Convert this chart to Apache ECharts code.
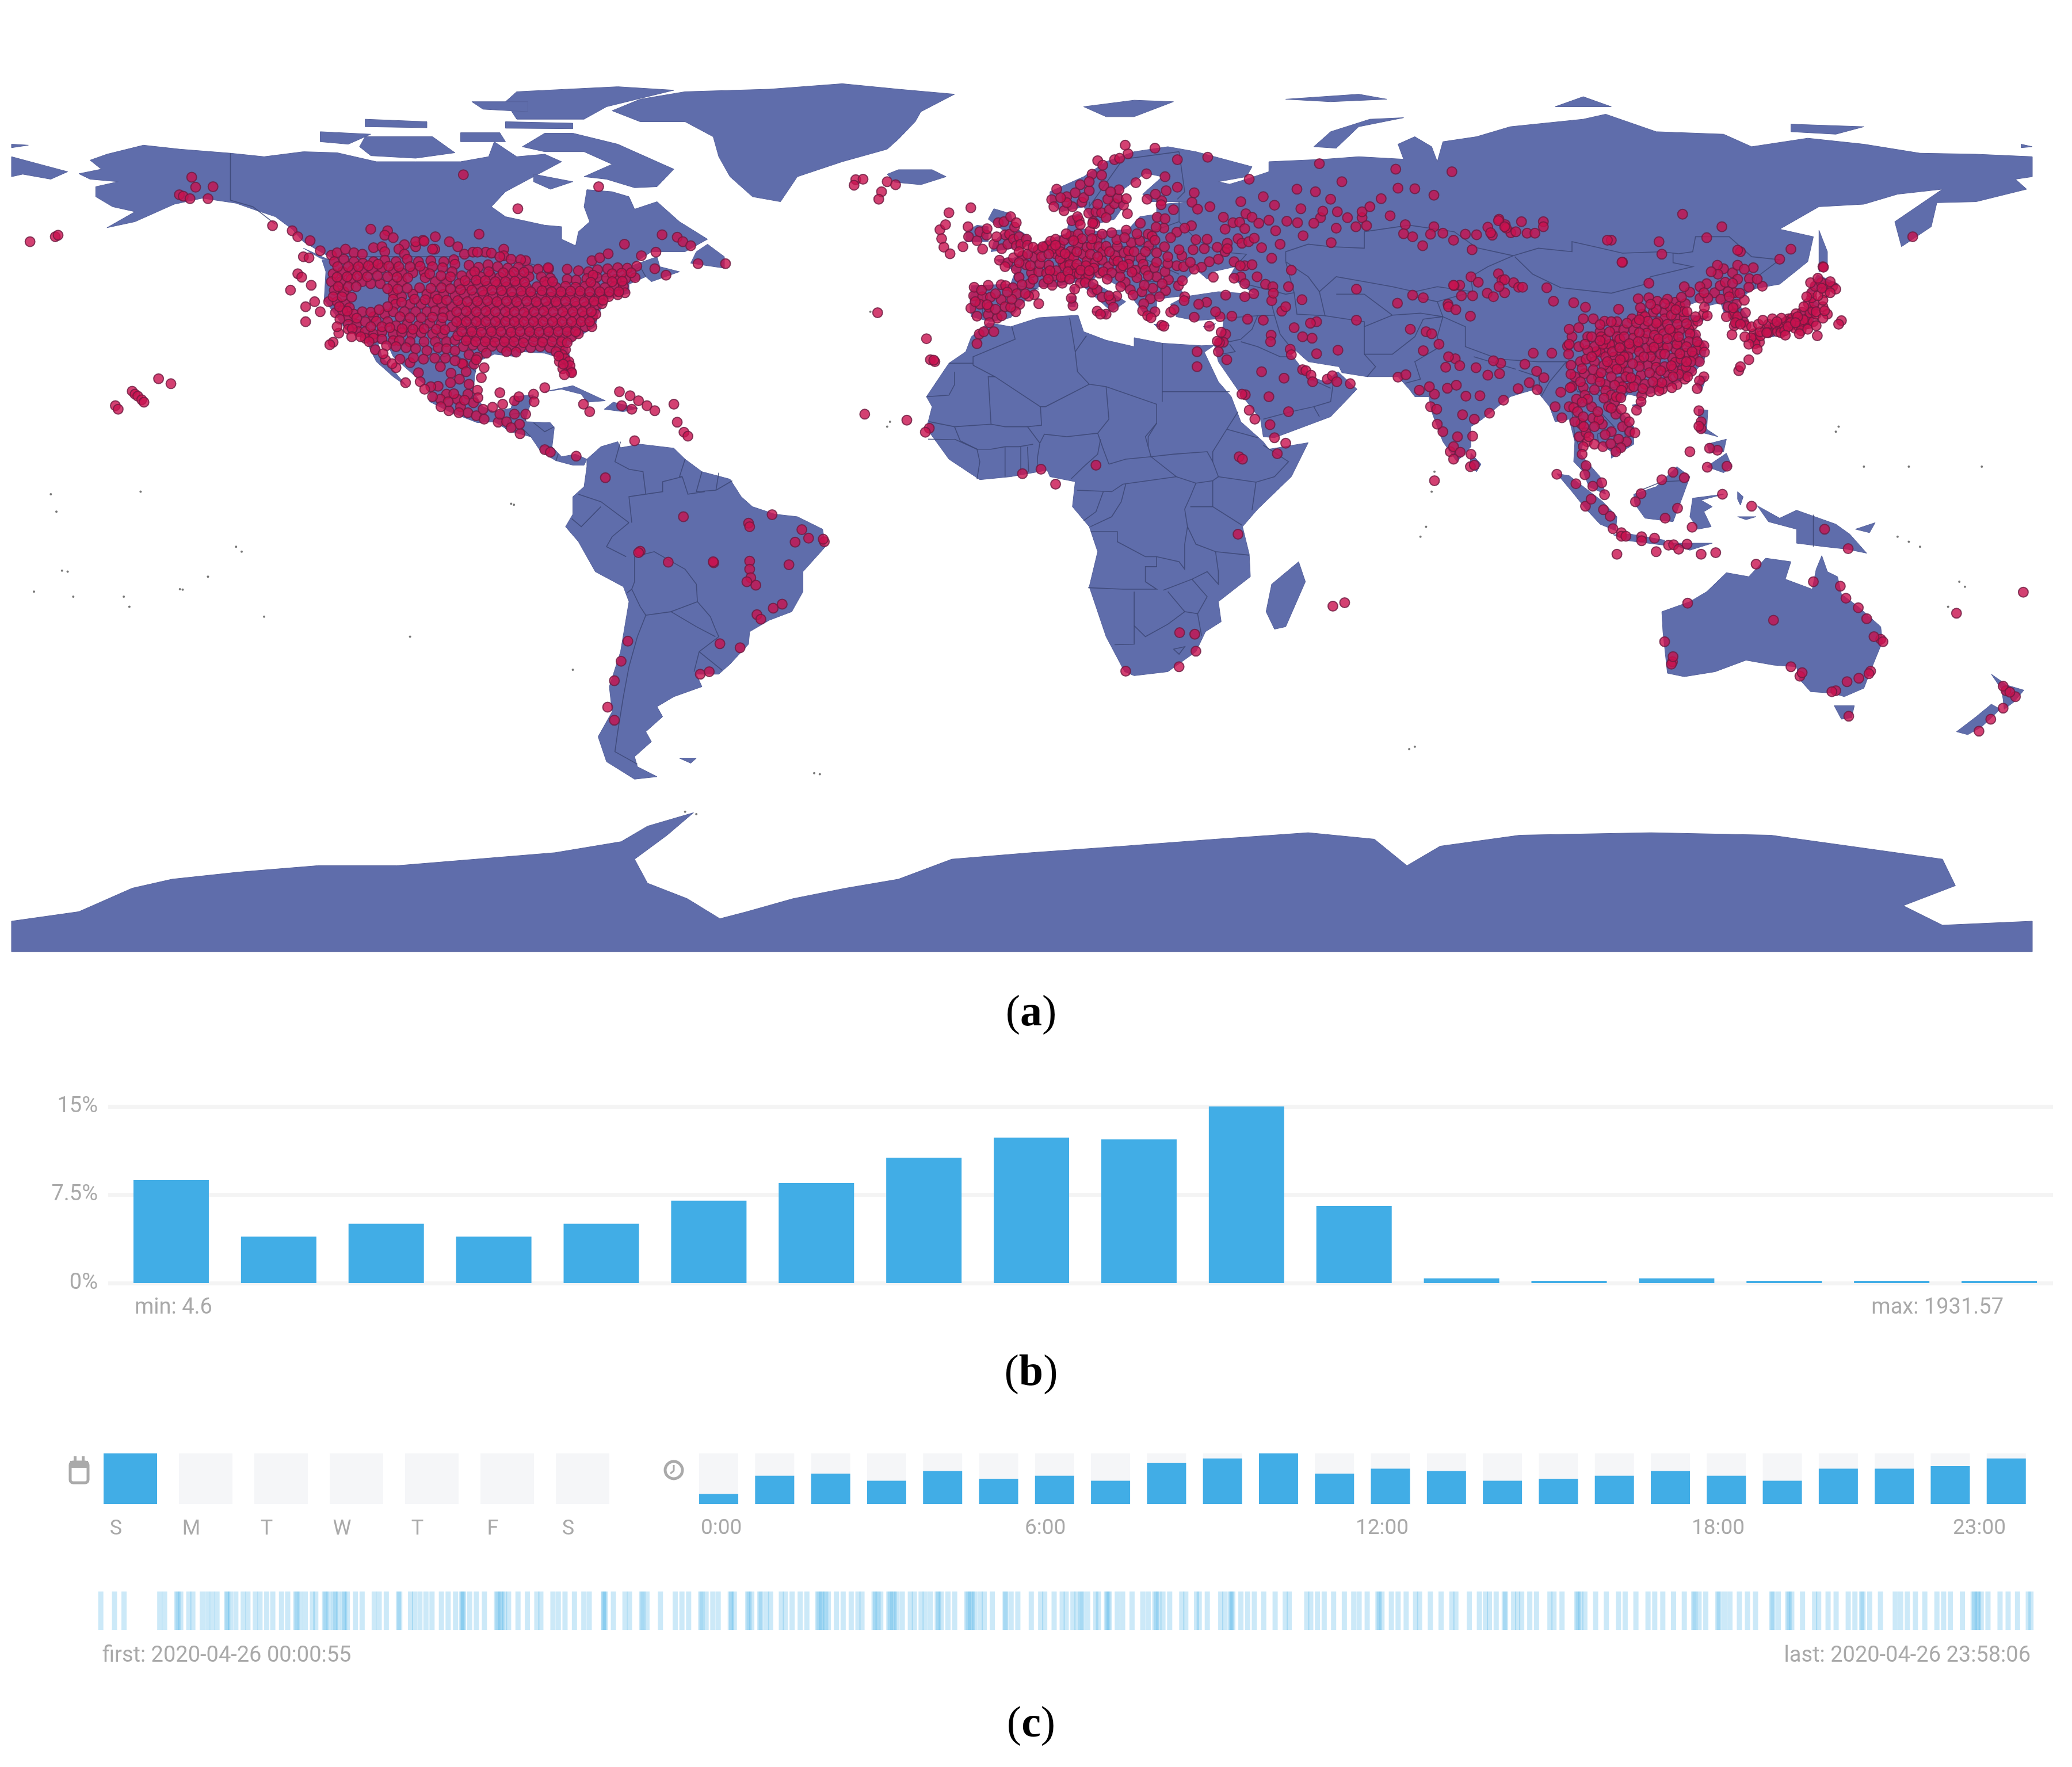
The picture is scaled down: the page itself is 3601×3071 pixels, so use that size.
<!DOCTYPE html>
<html>
<head>
<meta charset="utf-8">
<title>figure</title>
<style>html,body{margin:0;padding:0;background:#fff}#main{width:3601px;height:3071px}</style>
<script src="https://cdn.jsdelivr.net/npm/echarts@6/dist/echarts.min.js"></script>
</head>
<body>
<div id="main"></div>
<script>
// land outlines, lon/lat
var northAmerica=[[-168,65.6],[-164,66.5],[-166,68.3],[-163,69.5],[-156.5,71.3],[-150,70.5],[-141,69.7],[-135,69],[-128,70],[-122,69.8],[-115,68],[-108,68],[-100,68],[-95,69],[-94,72],[-90,69],[-85,69.5],[-82,68],[-87,65],[-92,62],[-94.5,59],[-92,57],[-85,55.3],[-82,55],[-82,52.5],[-79.5,51.2],[-79,54],[-77,56],[-78,59],[-77.5,62.4],[-73,62],[-70,61],[-69,58.5],[-65,60],[-61,56],[-56,52.5],[-60,50],[-66,50],[-70,47],[-65,49],[-64.5,47],[-61,46],[-66,44],[-67,45],[-70,43.5],[-70,41.7],[-74,40.5],[-75.5,37.5],[-76,35],[-79,33],[-81,31],[-80,26.5],[-80.5,25.2],[-82,27],[-83,29],[-85,29.7],[-89,30],[-90,29],[-94,29.5],[-97,28],[-97.5,25],[-97.7,22],[-96,19],[-94,18],[-91,18.7],[-90.5,21],[-87,21.4],[-88,18],[-88.5,16],[-84,15.8],[-83.3,14.8],[-83.7,11],[-82,9],[-79.5,9.5],[-77.5,8.5],[-78,7.3],[-80,7.3],[-83,8.2],[-85.7,10],[-87.5,13],[-91,14],[-94,16],[-97,15.8],[-102,18],[-105.5,20],[-105.5,22.5],[-109,26],[-112,29],[-113,31.5],[-114.7,31.7],[-114,29],[-111,25],[-109.5,23],[-112,25],[-115,28],[-117,32.5],[-120.5,34.5],[-122.5,37.7],[-124.3,40.3],[-124,46],[-124.7,48.4],[-122.5,48.5],[-125,50],[-128,52],[-130,54.5],[-133,57],[-137,58.5],[-140,59.7],[-146,60.7],[-151,59.5],[-153,58.5],[-158,56],[-163,54.8],[-158,58],[-162,59],[-165,61],[-165,63],[-161,64],[-166,64.5]];
var southAmerica=[[-77.5,8.5],[-75,11],[-72,12],[-71.5,10.8],[-68,11.5],[-62,10.7],[-60,8.5],[-57,6],[-52,4.5],[-50,1],[-48,-1],[-44,-2.5],[-40,-3],[-35.5,-5.5],[-35,-9],[-39,-14],[-39,-18],[-41,-22],[-45,-23.7],[-48.5,-26],[-48.7,-28.5],[-52,-32.5],[-54,-34.5],[-58,-34.5],[-57,-37],[-62,-39],[-65,-41],[-64,-43],[-67,-46],[-66,-48],[-69,-51],[-68.5,-53],[-65,-55],[-69,-55.5],[-74,-52],[-75.5,-47],[-73,-42],[-73.5,-37],[-71.5,-30],[-70,-20],[-71,-17],[-76,-14],[-79,-8],[-81.3,-5],[-80,-2.5],[-80,1],[-78,3],[-77.5,7]];
var africa=[[-6,35.8],[-2,35],[3,36.8],[10,37.3],[11,34],[15,32.3],[20,31],[20,32.8],[25,31.7],[32,31.2],[34.3,31.3],[32.5,29.9],[35,24],[37.3,21],[39,16],[43,12],[44,10.5],[51,11.8],[48,5],[42,-1.5],[39.3,-5],[40.5,-10.5],[40.7,-15],[35,-20],[35.5,-24],[32.7,-26],[31,-30],[26,-34],[20,-34.8],[18.3,-34],[15,-27],[12,-17],[13.5,-10],[12,-5],[9,-1],[9.5,4],[5,5],[4.5,6.3],[-2,5],[-7.5,4.4],[-13,8.5],[-17,14.7],[-16,19],[-17,21],[-13,27.7],[-10,30],[-9,33]];
var eurasia=[[-9,37],[-9.3,39],[-9,43.2],[-2,43.5],[-1.2,46],[-4.7,48.4],[-1.5,48.7],[1.5,50.5],[4,52],[8,53.7],[8.5,57],[10.5,57.7],[10,54.7],[14,54],[19,54.5],[21,57],[24,57.5],[24,59.4],[30,60],[23,60],[21.5,61.5],[25,65],[22,65.7],[17.5,62],[18.5,59.7],[16.5,56.5],[13,55.5],[11,59],[7,58],[5,60],[5,62],[11,65],[15,68],[20,70],[26,71],[31,70],[41,67],[40,65],[35,64],[37,63.5],[40,64.5],[44,66],[44,68],[54,68.5],[60,69],[68,68.5],[67,71.5],[70,73],[73,71],[74,68],[75,72],[81,73],[87,75],[100,76.5],[104,77.5],[113,74],[125,73.5],[130,71],[140,72.7],[150,71.5],[160,69.7],[170,69.5],[180,69],[180,65],[177,64.5],[179,62.5],[170,60],[163,59.8],[162,55],[156.7,51],[155.5,56],[164,62.5],[156,61.5],[150,59.5],[142,59],[135,54.5],[141,53],[140,48],[135,43.5],[130,42.5],[127.5,39.8],[129.3,37],[129,35.2],[126.5,34.5],[126.5,37.5],[125,38],[124.5,39.8],[121.5,39],[122,40.7],[118,39],[119,37.3],[122.5,37],[119.5,35],[122,31],[121.5,28],[119,25],[114,22.3],[110,21],[108,21.5],[106,19],[109,15],[109,11.5],[105,8.7],[105,10],[102.5,12],[100.8,13.5],[100,12],[99.5,9.5],[103,5],[104,1.5],[101,3],[100,6],[98.3,8],[98.5,12],[97.5,16.5],[95,16],[94,19],[91.5,22.5],[89,21.7],[87,21],[82,16.5],[80,15],[80,11],[77.5,8],[75,12],[73,18],[72.5,21],[70,21],[69,22.5],[67,25],[61.5,25],[57,25.8],[56.5,27],[51,28],[48.8,30.2],[48,29.5],[50,26.5],[51.5,25],[54,24],[56.3,26],[59.7,22.5],[55,17],[45,12.8],[43,13],[42.5,16.5],[39,21.5],[35,28],[34.3,31.3],[35.8,35],[36,36.7],[31,36.2],[27.5,37],[26.5,39.5],[29,41],[35,42],[41.5,41.5],[37,45],[38,47],[34,46],[33,44.5],[31,46.5],[28,43],[29,41.2],[26,40.8],[24,40.5],[24,38],[22.5,36.5],[19.5,41],[19,42],[13.5,45.5],[12.5,44],[16,41.8],[18.5,40],[16,38],[12.5,41.5],[10,44],[6,43],[3,43],[0,39.5],[-2,36.8],[-5.5,36]];
var australia=[[114,-22],[114.2,-26],[115,-34.3],[118,-35],[123.5,-34],[129,-31.7],[134,-32.7],[138,-33],[138.5,-35.5],[140.5,-38],[144.5,-38.3],[146.5,-39],[150,-37.3],[151.3,-33.5],[153.3,-28],[153,-25],[149,-21],[146,-18.5],[145.3,-15],[143.5,-14],[142.5,-10.8],[141.5,-13.5],[140.8,-17.5],[136,-15.5],[137,-12],[132.5,-11.3],[129.5,-15],[125.5,-14.2],[122,-18],[119,-20]];
var antarctica=[[-180,-83.9],[-168,-82],[-158.5,-77.3],[-151.4,-75.5],[-139.7,-74.1],[-125.5,-72.8],[-111.4,-72.8],[-97.3,-71.5],[-83.2,-70.2],[-71.4,-68],[-66.7,-64.9],[-58.5,-62.2],[-63.2,-66.7],[-69,-71.5],[-66.7,-76.3],[-59.6,-79.4],[-53.8,-83.4],[-49,-82],[-40.8,-79.4],[-31.4,-77.3],[-22,-75.5],[-12.5,-71.5],[1.6,-70.2],[18,-68.9],[34.5,-67.5],[51,-66.2],[62.8,-67.5],[68.6,-72.8],[74.5,-68.9],[88.7,-66.7],[112,-66.2],[133.4,-66.7],[147.5,-68.9],[164,-71.5],[166.3,-76.8],[157,-80.8],[164,-84.7],[180,-83.9],[180,-90],[-180,-90]];
var islands=[
[[-73,78.2],[-68,80.5],[-60,82],[-45,82.5],[-32,83.6],[-22,82.5],[-12,81.5],[-18,78],[-19,76],[-22,72.5],[-24,70.5],[-32,68],[-40,65],[-43,60],[-48,61],[-52,65],[-54,69],[-55,73],[-60,76],[-68,76]],
[[-80,73.7],[-72,71.5],[-67,69],[-62,66.5],[-65,63],[-69,62.8],[-74,64.5],[-78,65],[-73,67.5],[-78,70],[-85,70],[-89,71],[-85,73.7]],
[[-117,73],[-105,73],[-101,69.8],[-108,68.7],[-116,69.2],[-118,71]],
[[-125,74],[-116,73.5],[-120,71.5],[-125,72]],
[[-90,76.5],[-78,76.5],[-74,79],[-62,82.3],[-72,83],[-90,82],[-92,80]],
[[-92,76],[-80,75.7],[-80,74.6],[-92,74.7]],
[[-98,80],[-88,80],[-88,78],[-96,78.5]],
[[-117,76.5],[-106,76],[-106,74.8],[-117,75]],
[[-100,73.8],[-93,73.8],[-92,72],[-100,72]],
[[-87,65.5],[-80,64],[-84,62.5],[-87,64]],
[[-59,47.7],[-53,46.7],[-53,49],[-56,51.5],[-58,50]],
[[-128,50.7],[-123.5,48.4],[-125,48.7]],
[[-85,22],[-80,23.2],[-74.2,20.2],[-77.5,19.9],[-78.5,21.5],[-82,22.5]],
[[-74.4,18.5],[-72.8,19.9],[-68.4,18.7],[-71,18]],
[[-24,65.5],[-22,66.4],[-16,66.4],[-13.5,65],[-18,63.4],[-22.7,63.9]],
[[-5.5,50],[1.3,51.2],[1.7,52.7],[-1.5,55],[-2,57.6],[-5,58.6],[-6,56.5],[-3,54],[-5,52]],
[[-10,52],[-6,52],[-6,55],[-8,55.3],[-10,54]],
[[11,79],[20,80.3],[27,80],[20,77],[15,77]],
[[52,71],[56,70.7],[60,75],[68,76.8],[62,76.5],[55,74]],
[[95,79],[105,79],[100,81]],
[[47,80.5],[60,81.5],[65,80.5],[55,80]],
[[137,75.5],[150,75],[145,73.5],[137,74]],
[[178,71.5],[180,71],[178,70.8]],
[[-180,71.5],[-177,71.3],[-180,70.8]],
[[-180,69],[-175,67.5],[-170,66],[-173,64.5],[-178,65.5],[-180,65]],
[[142,54.3],[143.5,50],[143.5,46.5],[142,46],[142,50]],
[[140,42],[141.7,45.4],[145.5,43.5],[143,42]],
[[131,34],[133,35.7],[137,37.3],[139.8,38.5],[140.3,41.3],[142,39.5],[140.9,35.7],[136.8,34.5],[133,34]],
[[130,33.5],[132,33],[131,31],[130,31.5]],
[[132.5,34],[134.5,34.2],[134,33],[132.7,33]],
[[121,25.2],[122,25],[121,22],[120,23.5]],
[[108.7,19.3],[111,20],[110,18.3]],
[[120.5,18.5],[122.2,18.3],[122,14.5],[124,13],[120.6,14]],
[[122,7],[125.5,9.7],[126.5,7],[125,5.8]],
[[122,11.5],[125.5,12.5],[125,10],[122.5,9.8]],
[[95.3,5.6],[97.5,5.2],[103.5,0],[106,-3],[105.8,-5.8],[103,-4.5],[100.5,-1.5],[98,2]],
[[105.3,-6.6],[108.5,-6.5],[114.5,-7.7],[114.4,-8.7],[108,-7.8]],
[[115,-8.3],[123,-8.3],[119,-9.7]],
[[109,1.5],[113,3],[116.7,7],[119,5],[117.7,1],[116,-4],[111,-3.3],[109.2,-0.5]],
[[119.5,0.7],[125,1.5],[121,0.3],[123,-1],[121.5,-2],[122.8,-5],[120.4,-5.5],[119,-3]],
[[127.5,2],[128.5,1],[128,-0.7],[127.5,0.5]],
[[127.5,-3],[130.8,-3],[129,-3.6]],
[[131,-0.8],[135,-3.3],[138,-1.7],[145,-4.5],[147.5,-6.5],[150.5,-10.3],[147,-9.5],[143,-9],[138,-8.3],[138,-5.5],[133,-4]],
[[148.5,-5.5],[152,-4.2],[151,-6.2]],
[[144.7,-40.8],[148.3,-40.8],[147.8,-43.2],[146,-43.5]],
[[172.7,-34.5],[175.5,-36.7],[178.5,-37.7],[176.8,-40],[175,-41.5],[174.8,-39.5],[174.5,-37.5]],
[[172.7,-40.5],[174.3,-41.5],[171,-45],[168.5,-46.6],[166.5,-46],[170,-43]],
[[49.3,-12],[50.5,-16],[47,-25],[45,-25.5],[43.5,-22],[44.5,-16.5]],
[[80,9.7],[81.8,7.5],[81,6],[79.8,7]],
[[12.5,38],[15.6,38.2],[15,36.7]],
[[8.3,41],[9.7,41],[9.5,39],[8.5,39]],
[[8.6,42.9],[9.5,43],[9.3,41.5]],
[[23.5,35.5],[26.3,35.3],[24,35]],
[[32.3,35],[34.5,35.6],[33.5,34.7]],
[[-61,-51.3],[-58,-51.3],[-59,-52.3]]
];
// country borders
var borders=[
[[-141,69.7],[-141,60.3],[-137,59],[-133,55.5]],
[[-123,49],[-95,49],[-89,48],[-84,46.5],[-82.5,43],[-79,43],[-75,45],[-71,45],[-68,47],[-67,45]],
[[-117,32.5],[-111,31.3],[-106.5,31.7],[-103,29],[-101,29.7],[-97.3,26]],
[[-92,14.5],[-91,17.5],[-89,17.8],[-88.3,16]],[[-89.3,15],[-87.5,13]],[[-87,15.8],[-85,14],[-83.3,15]],[[-85.7,11],[-83.7,11]],[[-83,8.2],[-82.6,9.6]],
[[-71.5,12],[-72.5,8],[-70,6.5],[-67.5,6],[-67,1.5]],[[-60,8.5],[-61,5],[-60.5,5]],[[-67,1.5],[-64,2],[-64,4],[-60.5,5]],[[-60.5,5],[-59.5,1.5],[-56.5,2]],[[-57,6],[-58,2]],[[-54,5.8],[-54.5,2.3]],[[-54.5,2.3],[-51.6,4.2]],[[-58,2],[-54.5,2.3]],
[[-67,1.5],[-70,1],[-69.5,-4.2]],[[-79,1.5],[-75,0],[-70,-4.2]],[[-80.2,-3.4],[-78.5,-5],[-75,-1]],[[-70,-4.2],[-73,-7],[-74,-9],[-70.5,-11]],[[-69,-11],[-69,-16],[-69.5,-17.5]],[[-69,-11],[-65.5,-10],[-60,-13.5],[-58,-16.5],[-57.8,-20]],[[-57.8,-20],[-62.5,-22]],[[-62.5,-22],[-67,-22.7]],[[-69.5,-17.5],[-68,-21],[-67,-22.7]],[[-67,-22.7],[-68.5,-27],[-70,-33],[-71,-39],[-72,-46],[-72.5,-50],[-68.5,-52.5]],[[-69.5,-17.5],[-70.4,-18.3]],[[-62.5,-22],[-58,-25],[-54.6,-27]],[[-57.8,-20],[-55.5,-23],[-54.6,-25.5]],[[-54.6,-25.5],[-54,-27],[-57.5,-30]],[[-57.5,-30],[-53.4,-33.7]],[[-57.5,-30],[-58.4,-34]],
[[-1.8,35],[-1.2,32.5],[-8.7,29],[-8.7,27.3]],[[-13,27.7],[-8.7,27.7]],[[-8.7,27.3],[-4.8,25],[3.3,19],[4.2,19],[12,23.5],[15,23],[24,19.5],[24,15.7],[22.5,13],[22.5,11]],[[-12,26],[-12,23.4],[-13,21.3],[-17,21]],[[-4.8,25],[-6,25],[-5.5,15.5],[-12,15],[-16.5,16]],[[8.5,36.8],[9.5,30],[9.9,26],[12,23.5]],[[11.5,33.2],[9.5,30]],[[25,31.7],[25,20]],[[25,22],[37,22]],[[15,23],[15.5,16.5],[13.5,13.7],[14.5,10.5],[15.5,7.5]],[[3.2,11.7],[4,13.5],[8,13],[13.5,13.7]],[[3.3,19],[3.5,15.3],[1,15],[3.2,11.7],[2.8,9],[2.7,6.3]],[[-5.5,15.5],[-3,15],[-0.5,15],[1,15]],[[-5.5,10.5],[-3,11],[-0.5,11],[2,11.5]],[[-12,12.5],[-8,10.5],[-7.5,8],[-8,4.5]],[[-16.7,12.5],[-12,12.4]],[[-3,5],[-3,10.9]],[[-0.2,5.5],[-0.2,11]],[[1.2,6],[1,11]],[[-12,15],[-11,12.2],[-8,10.5],[-5.5,10.5]],[[24,15.7],[22,13],[23,9]],[[15.5,7.5],[18.5,8.5],[23,9],[27.5,5]],[[8.8,4.6],[11,7],[13.5,9.5],[14,12.5]],[[9.8,2.3],[16,2],[18,3.5],[27.5,5],[31,3.7],[34,4.2]],[[11,-3.8],[13.2,-2],[14.5,2]],[[12.2,-5],[16,-3],[17.7,0],[18.5,3.5]],[[12.3,-6],[17,-6],[17,-8],[22,-11],[24,-11],[24,-13]],[[11.8,-17.2],[18,-17.5],[24,-17.5],[22,-16],[22,-13],[24,-13]],[[24,-11],[28,-12],[29,-13.5],[29,-8.5],[29.5,-5]],[[29.5,-5],[29,-1.5],[30,1],[31,3.7]],[[23,9],[27,9.5],[33,10],[34,8]],[[36.5,14.5],[34,10],[34,8],[35,5]],[[36.5,14.5],[38.5,18]],[[36.5,14.5],[42,12.8]],[[43,11.3],[47.5,8],[45,5],[41.7,3.9],[35,5]],[[34,4.2],[35,5]],[[41.7,3.9],[41,-1.7]],[[39.2,-4.7],[34,-1],[30,-1]],[[34,4.2],[34,-1]],[[29.5,-5],[31,-8.5],[34.5,-10],[40.5,-10.7]],[[34.5,-10],[35,-14],[35,-16.5],[33,-14],[30.3,-15.5]],[[25.2,-17.7],[30.3,-15.5],[33,-19],[31.3,-22.4],[29,-22],[26,-18]],[[31.3,-22.4],[32,-26.8]],[[20,-18],[20,-24.8],[22,-27],[26,-24.5],[29,-22]],[[20,-24.8],[20,-28.5],[16.5,-28.6]],[[27,-29.5],[29,-29],[28,-30.5],[27,-29.5]],
[[28,56],[31,52.5],[35,50],[40,49.5],[38,47]],[[40,43.5],[47,41.5],[48.5,41.8]],[[47,48],[47,50],[51,51.5],[55,51],[61,50.7],[61,54],[69,55.3],[77,54],[81,50.8],[87.5,49.2]],[[87.5,49.2],[92,50.7],[98,50],[98,52],[102,51],[107,49.7],[114,50],[117,49.6],[119.5,50],[120,53],[126,53],[130,49],[135,48.4],[131,45],[130.5,42.5]],[[87.8,49],[91,45.5],[96,42.8],[105,41.7],[111,43.5],[112,45],[119.5,47],[116,47.8],[116,49.8]],[[87.5,49.2],[83,47],[80,45],[80.3,42],[74,40]],[[74,40],[75,37],[79,35],[79,31],[85,28.5],[92,28],[97,28],[98,25],[99,22],[102,22],[106,23],[108,21.6]],[[124.5,40],[128,41.5],[130.5,42.5]],[[125,37.8],[128.5,38.5]],[[75,37],[74,33],[74.5,31],[70,28],[71,24.5],[68.3,23.7]],[[61.5,25],[63,27],[61,29.5]],[[61,29.5],[66,29.5],[70,33],[71.5,36.5],[75,37]],[[61,29.5],[61,35],[66,37.3],[71,37.7],[75,37]],[[54,37.2],[61,36],[61,35]],[[53,42],[56,45],[61,44],[66,43],[70,42],[74,43],[80.3,42]],[[56,41.5],[61,41.5],[66,37.3]],[[70,41],[74,40]],[[47,48],[51,45],[53,42],[54,37.2],[49,37.5],[48.5,41.8],[47,48]],[[48.5,30],[46,33.5],[45,37.3],[44.5,39.5]],[[36,36.7],[42,37.2],[45,37.3]],[[42,37.2],[41,34.5],[39,32.5],[37,32],[35.5,32.5]],[[39,32],[42,31],[46,29],[48,29]],[[37,31.5],[38,30],[35,29.4]],[[43,16.5],[48,18],[52,19],[53,17]],[[52,19],[55,20],[55.5,24],[56,26]],[[51.5,24.5],[55,22.7]],[[99,22],[101,21.3],[100,20],[98,18],[98.5,13],[99.5,10.5]],[[100.5,20],[103,18],[105.5,15],[102.5,13.5],[102.7,12]],[[102,22],[104,20],[107,16],[107.5,13],[106,11],[104.5,10.5]],[[88.5,26.3],[92,25],[92.5,21.5]],[[80.5,29],[88,26.5]],[[97,28],[94,24],[92.5,21]],[[109.6,2],[114,4],[117.5,4.2]],[[141,-2.6],[141,-9]],[[24,51],[23,54],[28,56],[28,60]],[[24,51],[22,48.5],[28,45.5]],[[14.5,54],[15,51],[24,51]],[[6,51],[8,47.7],[13,47.5],[17,48],[22,48.5]],[[-1.8,43.4],[3,42.5]],[[-9,42],[-7,41.8],[-7,37.2]],[[3,51],[8,49],[7,44]],[[12,60],[12,59],[18,68.5],[28,70]],[[28,70],[29,62],[27.7,60.5]],[[22,48.5],[19,46],[22,44],[28,44]],[[19,46],[16,46.5],[13.5,45.7]],[[22,44],[21,41],[26,41.5]]
];
// observation points, lon/lat
var pointsNorthAmerica=[[-147.9,64.9],[-147.2,62.9],[-144.1,63],[-150.1,61.4],[-149.4,61.1],[-148.2,60.6],[-145,60.6],[-176.7,52],[-172.2,53],[-171.7,53.3],[-99.5,65.4],[-75.4,63],[-89.8,58.6],[-158.5,22.1],[-158,21.5],[-157.5,21.1],[-156.8,20.4],[-156.4,19.9],[-153.8,24.6],[-151.6,23.6],[-161.5,19.2],[-161,18.5],
[-133.5,55.2],[-130,54.2],[-129,53],[-126.8,52.2],[-125,50.2],[-116,54.5],[-113,54.2],[-113.5,53.3],[-112,52.8],[-110,51.4],[-108,51],[-106.7,52.3],[-104.6,50.5],[-96.7,53.5],[-101.2,48.4],[-99.3,49.5],[-97.8,49.9],[-95.5,49.9],[-92.3,50.5],[-92.3,49.2],[-88.4,48.2],[-76.6,48.2],[-75.2,48.8],[-73.7,49.6],[-70.8,51.5],[-67.8,49.2],[-65.2,49.9],[-64.1,53.4],[-61.4,52.9],[-60.4,52],[-59,51.2],[-57.7,47.6],[-52.8,47.6],[-63.4,45.3],[-65.4,46.6],
[-123,49.3],[-122,49.8],[-120.5,50.5],[-119,49.8],[-117.5,49.5],[-115.5,50.8],[-114,51],[-113.5,50],[-111,50.5],[-110,49.5],[-108,52],[-106.5,52.1],[-105,50.5],[-104.5,53],[-102,52],[-100.5,51],[-97,49.9],[-94.5,49.7],[-93,49],[-91,48.5],[-89.3,48.4],[-84.3,46.6],[-81,46.5],
[-129,45.6],[-128.3,44.9],[-130.3,42.3],[-126.6,43.3],[-126,40],[-127.6,39],[-125,38],[-127.6,36],[-122.7,31.9],[-123.3,31.4],[-121.7,33.7],[-128,49],[-127,48.8],
[-122.5,48],[-120.8,48.5],[-119,48],[-117.4,47.7],[-115.5,48],[-113.5,48.3],[-111.5,48],[-109.5,48.5],[-107.5,48],[-105.3,48.2],[-103,48],[-101,47.5],[-122.7,45.6],[-121,46],[-119.3,46.2],[-117.5,46],[-115.7,46.5],[-114,46.8],[-112,46],[-110.5,45.8],[-108.5,45.8],[-106.5,46],[-123,44],[-121.3,44],[-119.5,44.5],[-117.5,44],[-116,43.6],[-114.3,43.6],[-112,43.5],[-110.5,44],[-106.3,44.8],[-104.5,44],[-102.5,44],[-122.5,42.3],[-120.8,42],[-112,41.7],[-110.5,41],[-108.5,41.5],[-106,41.5],[-104.5,41.2],[-103,41.5],[-123.5,40],[-122,40],[-120.5,39.5],[-119.8,38.8],[-112,40.5],[-111.6,39.5],[-109,39.5],[-107,39.5],[-105,39.8],[-103.3,39.5],[-122.3,37.8],[-121,38.2],[-120,37],[-119,37.5],[-117.5,38],[-115.5,37],[-113.5,37.5],[-112,38],[-110,38],[-108,38],[-106,38],[-104.5,38.2],[-103,38],[-121.5,36.5],[-120,35.5],[-118.5,35.5],[-117,36],[-115,36.1],[-113,36],[-111.5,35.2],[-109.5,35.5],[-107.5,35.2],[-105.5,35.7],[-103.5,35.5],[-120,34.5],[-118.2,34],[-117,34],[-115.5,33.5],[-114,34],[-112,33.5],[-110.5,33.8],[-108.7,33.5],[-107,33.8],[-105,33.5],[-103.2,33.5],[-117,32.7],[-115.5,32.7],[-114,32.5],[-112,32.2],[-110.9,32.2],[-109,32],[-106.5,32],[-104.5,32],[-102.5,32],[-101,32.3],
[-98.5,47.3],[-96.8,46.9],[-95.1,47.4],[-93.4,47],[-91.6,46.7],[-89.7,46.9],[-87.9,46.4],[-86.2,46.5],[-84.4,46.8],[-79,46.2],[-77.2,46],[-75.6,46.4],[-73.8,46.6],[-72,46.8],[-70.3,46.7],[-68.6,47.1],
[-99.8,45.2],[-98.1,45.4],[-96.4,45],[-94.7,45.3],[-93,44.9],[-91.2,45.2],[-89.5,44.8],[-87.8,45],[-85.6,45],[-84,44.7],[-81,44.5],[-79.4,44.3],[-77.5,44.6],[-75.7,44.9],[-74,44.7],[-72.3,44.5],[-70.6,44.6],[-68.9,44.8],
[-100.3,43.6],[-98.6,43.2],[-96.9,43.5],[-95.2,43.1],[-93.5,43.4],[-91.8,43],[-90,43.3],[-88.3,42.9],[-86.4,43],[-84.7,43.3],[-83,42.9],[-81.3,43.1],[-79.5,42.9],[-77.8,43.1],[-76,43],[-74.3,42.8],[-72.6,43],[-71,43.1],
[-101,41.2],[-99.3,41.5],[-97.6,41],[-95.9,41.3],[-94.2,41],[-92.5,41.3],[-90.8,40.9],[-89,41.2],[-87.3,41],[-85.6,41.3],[-83.9,40.9],[-82.2,41.2],[-80.5,41],[-78.8,41.2],[-77,40.9],[-75.3,41],[-73.6,41],[-72,41.4],[-70.7,41.8],
[-101.5,39],[-99.8,39.3],[-98.1,38.9],[-96.4,39.2],[-94.7,39],[-93,39.3],[-91.3,38.9],[-89.6,39.1],[-87.9,38.8],[-86.2,39.2],[-84.5,39],[-82.8,39.2],[-81.1,38.8],[-79.4,39.1],[-77.7,39],[-76,39.2],[-74.8,39.6],
[-101.8,37.2],[-100,36.8],[-98.3,37.1],[-96.6,36.9],[-94.9,37.2],[-93.2,36.8],[-91.5,37],[-89.8,36.7],[-88.1,37.1],[-86.4,36.8],[-84.7,37],[-83,36.7],[-81.3,37.1],[-79.6,36.9],[-78,37.1],[-76.5,36.9],[-75.9,37.5],
[-101.5,35],[-99.8,35.3],[-98.1,34.9],[-96.4,35.2],[-94.7,34.8],[-93,35.1],[-91.3,34.8],[-89.6,35.2],[-87.9,34.9],[-86.2,35.1],[-84.5,34.8],[-82.8,35.1],[-81.1,34.9],[-79.4,35.2],[-77.8,35],[-76.6,35],
[-100.5,33.2],[-98.8,32.9],[-97.1,33.1],[-95.4,32.8],[-93.7,33],[-92,32.7],[-90.3,33],[-88.6,32.8],[-86.9,33],[-85.2,32.7],[-83.5,33],[-81.8,32.8],[-80.2,33],[-79,33.6],
[-99.5,31],[-97.8,31.3],[-96.1,30.9],[-94.4,31.1],[-92.7,30.8],[-91,31],[-89.3,30.8],[-87.5,30.8],[-85.8,31],[-84.1,30.8],[-82.4,31],[-81.3,30.4],[-81.9,29.4],[-82.4,28],[-81.4,28.6],[-80.7,28],[-81.8,26.6],[-80.3,26],[-80.5,27.2],[-98.5,29.4],[-97,28.9],[-95.4,29.7],[-97.6,27.5],[-99.5,27.5],[-90.1,29.9],[-91.8,30],[-83,30],[-82.5,29.1],[-81.7,27.5],[-80.2,25.8],[-81.5,25.4],
[-97.5,46],[-95,46],[-92.4,45.8],[-90.5,45.9],[-88.7,45.9],[-76.4,45.3],[-73,45.6],[-71.3,45.7],[-69.6,45.8],[-99.2,44.2],[-97.2,44.3],[-95.6,44.2],[-93.8,44],[-92,44],[-90.3,44.1],[-88.6,43.9],[-85,44],[-83.6,44],[-76.8,43.9],[-73,44],[-71.2,44.1],[-100,42.4],[-98,42.3],[-96.1,42.1],[-94.4,42.3],[-92.7,42.2],[-90.9,42],[-89.2,42.1],[-87.5,42],[-85.5,42.2],[-83.8,42],[-82.1,42],[-80.4,42.1],[-78.7,42.1],[-77,42],[-75.2,42],[-73.5,42],[-71.8,42],
[-100.5,40.2],[-98.8,40],[-97,40.1],[-95.2,40.2],[-93.5,40],[-91.8,40.1],[-90,40],[-88.2,40.1],[-86.5,40],[-84.8,40.1],[-83,40],[-81.3,40.1],[-79.6,40],[-78,40],[-76.2,40.1],[-74.6,40.3],[-100.7,38],[-99,38.1],[-97.2,38],[-95.5,38.1],[-93.8,38],[-92,38],[-90.4,38],[-88.7,37.9],[-86.9,38],[-85.2,38.1],[-83.5,38],[-81.8,38],[-80,38],[-78.3,38],[-76.7,38],
[-100.7,36],[-99,36],[-97.2,36],[-95.5,36],[-93.8,36],[-92,36],[-90.4,36],[-88.7,36],[-87,36],[-85.3,36],[-83.6,36],[-81.9,36],[-80.2,36],[-78.5,36],[-77,36],[-99.8,34],[-98,34],[-96.3,33.9],[-94.5,34],[-92.8,34],[-91,33.9],[-89.4,34],[-87.7,34],[-86,33.9],[-84.3,34],[-82.6,34],[-81,34],[-79.5,34],[-99,32.2],[-97.3,32],[-95.6,32],[-93.9,31.9],[-92.2,32],[-90.5,32],[-88.8,31.8],[-87,32],[-85.4,31.9],[-83.7,32],[-82,32],[-81,31.8],
[-113.4,28.4],[-111.5,26.8],[-109.8,23.8],[-109,27.8],[-107.5,25.8],[-103.6,27],[-101.7,25.7],[-99.7,27.6],[-97.2,28.4],[-95.8,26.8],[-96.3,24.8],[-104,23.1],[-102.5,21.5],[-100.6,20.5],[-103.6,20.5],[-98.7,21.5],[-97.7,19.8],[-100,19],[-102.1,18.2],[-98.7,17.8],[-97.2,17.2],[-95.8,16.5],[-93.3,15.9],[-94.3,18.9],[-93,21.8],[-90.4,20.2],[-88.4,17.5],[-90.4,17.5],[-87,21.5],[-85,22.8],[-78.1,19.5],[-77,18],[-71.7,22],[-69.8,21.2],[-68.3,20.2],[-66.8,19.2],[-65.4,18.2],[-71.3,19.2],[-69.5,18.5],[-62,19.5],[-61.4,15.9],[-60.2,13.9],[-59.5,13.1],[-69,12.2],[-89.4,13.6],[-85,10.4],[-84,9.9],[-79.4,9.1]];
var pointsWestExtra=[[-121.9,47],[-120,47],[-118.2,47],[-116.4,47.2],[-114.7,47.5],[-112.8,47.1],[-111,47],[-109,47],[-107.2,47.1],[-105,47],[-103.2,46.8],[-101.5,46],[-122,44.9],[-120.2,45],[-118.4,45.1],[-116.6,45],[-114.8,45.2],[-113,45],[-111.3,44.9],[-109.4,44.8],[-105.5,45.6],[-103.5,45.2],[-101.8,45],[-121.8,43],[-120,43],[-118.6,43],[-113,42.6],[-111.2,42.5],[-109.5,42.7],[-107.3,42.8],[-105.3,42.7],[-103.4,42.8],[-101.8,42.6],[-122.7,41],[-121.1,41],[-119.4,40.9],[-113,39],[-110.5,39.9],[-108.2,40.5],[-106.3,40.4],[-104.1,40.5],[-102.5,40.3],[-121.6,39],[-120.2,38.1],[-118.5,36.7],[-116,37.9],[-114.5,38.4],[-110.8,37],[-109,36.8],[-107,36.8],[-105,36.9],[-103.2,36.8],[-122,35],[-119.3,34.6],[-116,35],[-114,35],[-112.6,34.8],[-110.4,34.6],[-108.5,34.5],[-106.5,34.6],[-104.3,34.5],[-102.8,34.4],[-119.4,33],[-117.8,33],[-116.3,32],[-113.2,31.2],[-111.5,31],[-109.7,30.8],[-108,30.6],[-106,30.2],[-104,30.8],[-102.5,30.6],[-101,30.2],[-115.2,30.4],[-113.8,29.6],[-112.2,27.6],[-110.8,28.5],[-108.4,28.8],[-106.6,28.5],[-104.6,28.7],[-102.7,28.7],[-101,28.2],[-99,26],[-100.2,24.5],[-101.8,23.8],[-98.5,23.5],[-97,22.3],[-102.2,20],[-99.3,20.3],[-96.9,20.8],[-101.2,21.6],[-100.3,17.8],[-103.5,19],[-105,21],[-105.3,23],[-107.2,24],[-106.4,22.5],[-96,18.5],[-93,17.5],[-91.8,16],[-92.5,19.5],[-89.6,21],[-86.9,20],[-89.5,15.5],[-91,14.8]];
var pointsSouthAmerica=[[-74.2,4.8],[-60.3,-3],[-48.7,-4.3],[-48.5,-5],[-44.5,-2.6],[-39.2,-5.6],[-40.4,-8.1],[-35.2,-8],[-68,-9.9],[-63,-12.1],[-54.9,-12.2],[-48.5,-11.9],[-48.5,-13.5],[-68.3,-10.2],[-48.3,-15.2],[-47.4,-16.7],[-49,-16],[-55,-12],[-41.5,-12.6],[-38,-7.3],[-35.4,-7.5],[-47.2,-22.6],[-44.3,-21.3],[-42.7,-20.5],[-46.5,-23.5],[-50.2,-29.2],[-53.8,-28.4],[-57.3,-34.5],[-55.7,-34],[-70.2,-27.9],[-72.6,-35.8],[-73.8,-41.1],[-72.6,-43.7],[-71.4,-31.9]];
var pointsEurope=[[-14.6,54.4],[-14.3,52.6],[-13.9,50.9],[-13.6,55.4],[-12.8,49.6],[-13,57.8],[-9.1,58.8],[-24,64],[-22.5,63.4],[-25,62],[-29.6,64.4],[-29.9,63.3],[-28.3,64.5],[-25.5,60.5],
[-9.5,53],[-8,52.2],[-7.5,54],[-6.3,53.3],[-6.2,54.6],[-5,51.5],[-4.2,55.8],[-3.6,50.6],[-3,53.4],[-3.2,56],[-2.5,51.5],[-2.2,53.5],[-2,57],[-1.5,52.5],[-1.3,54.9],[-1,51.2],[-0.5,53],[-0.2,51.5],[0.8,52.5],[1,51.3],
[-4,48.3],[-2.5,47.8],[-1.5,48.8],[-1,46.5],[-0.5,44.9],[0.1,49.2],[0.7,47.4],[1.4,43.6],[1.7,45.8],[2.3,48.9],[2.9,50.4],[3,46],[3.9,43.6],[4.4,45.7],[4.8,47.3],[5.4,43.3],[5.7,45.2],[6,49.6],[7.2,43.7],[7.3,47.7],[4.4,51.2],[5.1,52.1],[6,52.5],[3.7,51],[5.5,50.6],
[6.8,51.2],[7.5,52.3],[8.7,50.1],[8.7,53.1],[8.4,49],[9.2,48.8],[10,53.5],[10,51.5],[10.9,49.5],[11.6,48.1],[11.6,50.9],[12.4,51.3],[13.4,52.5],[13.7,51],[14.3,53.5],[12.1,54.1],[7.6,47],[8.5,47.4],[6.1,46.2],[9.5,46.7],[13,47.8],[14.3,48.3],[15.4,47],[16.4,48.2],[11.4,47.2],[14.4,50],[16.6,49.2],[18.2,49.8],[17.1,48.1],[19.2,48.6],[21.2,48.7],[19,47.5],[17.6,46.6],[20.2,46.3],[21.6,47.5],[15,51.1],[17,51.1],[19,50.2],[16.9,52.4],[19.5,51.8],[21,52.2],[18.6,54.3],[20,50],[22.6,51.2],[22.5,53.5],[23.2,53.1],
[7.7,45],[9.2,45.5],[10.2,45.5],[11.3,44.5],[11.9,45.4],[13.8,45.7],[10.4,43.7],[11.3,43.8],[12.5,41.9],[13.4,42.4],[14.3,40.9],[16.9,41.1],[15.8,40.3],[16.3,38.9],[15,37.5],[13.4,38.1],[9.1,39.2],[8.8,40.7],[9.4,42.5],[14.5,46],[16,45.8],[18.4,43.9],[20.5,44.8],[19.3,42.4],[21.4,42],[19.8,41.3],[23.3,42.7],[25.6,42.2],[27.9,43.2],[26.1,44.4],[23.6,46.8],[24,45],[27.6,47.2],[28.6,44.2],[28.8,47],
[22.9,40.6],[21.7,39.6],[21.5,38.2],[23.7,38],[22.4,37.2],[24.9,35.3],[25.3,35.1],[26.5,37.9],[23,36.8],
[-8.6,41.2],[-9.1,38.7],[-8,37.1],[-7,41],[-6,43.3],[-8.5,42.9],[-5.6,40.9],[-3.7,40.4],[-4.7,41.6],[-3.7,43.4],[-2.9,43.2],[-1.6,42.8],[-0.9,41.6],[-3,39],[-6,37.4],[-4.4,36.7],[-3.6,37.2],[-0.4,39.5],[-1.1,38],[2.2,41.4],[1.2,41.1],[0.6,41.6],[3,39.6],[-5.9,38.9],[-16.3,28.4],[-15.5,28],[-17,32.6],[-25.7,37.8],[-15.7,28.3],[-5.8,35.8],[-7.6,33.5],[-5,34],[-6.8,34],[-8,31.6],
[5.3,60.4],[5.7,59],[6.2,62.5],[7.5,58.2],[8,61],[9,59],[10.4,63.4],[10.7,59.9],[11,60.8],[12.5,65.5],[13.5,68.2],[14.4,67.3],[18.9,69.6],[16.5,68.4],[23.7,70.7],[18.4,71.3],[17.4,68.7],[12.7,56],[13,55.6],[11.9,57.7],[13.2,58],[14.2,57.8],[15.6,58.4],[16.5,59.6],[18.1,59.3],[17.1,60.7],[15.3,60.5],[14.6,63.2],[17.3,62.4],[20.3,63.8],[22.2,65.6],[18.8,57.6],[15,56.8],[8.9,56.2],[10.2,56.2],[12.6,55.7],[9.9,57],[10.4,55.4],
[24.9,60.2],[22.3,60.5],[23.8,61.5],[25.7,62.2],[27.7,62.9],[25.5,65],[27.7,68.4],[24.8,59.4],[27,58.4],[24.1,56.9],[25.3,54.7],[23.9,54.9],[21.1,55.7],[27.6,53.9],[30.2,55.2],[24,49.8],[30.5,50.4],[28.5,49.2],[32,46.9],[30.7,46.5],[34.1,44.9],[35,48.5],[36.2,50],[37.8,48],[33.4,48],[31,52.4]];
var pointsEuropeExtra=[[-10.5,51],[-9.6,55],[-7,50.5],[-4.5,53],[-1,55.8],[-0.5,50],[1,49.5],[-3,47],[-0.5,47.8],[1.5,47.2],[2,44.5],[0,43.4],[3.2,47.6],[2,50.9],[3.5,49],[4.8,49.5],[6.8,48.6],[5,46.2],[7,44.9],[4.7,44.5],[6.9,50],[6,51.3],[7.7,49.6],[9.8,50],[9.8,47.5],[12.2,49.5],[12.5,52.6],[10.7,52.6],[9.2,52.2],[7.9,53.6],[15.6,50],[13.5,49],[12.8,46.7],[8.2,46],[10.5,46.3],[12,46.2],[8.5,44.5],[12.7,43.5],[15.2,44.5],[17.5,45],[19.6,45.9],[18,47.2],[22,46.3],[25.5,46],[26,47.6],[24,47.9],[22.5,45.2],[25,43.6],[21.8,43.3],[17.6,43],[15.5,41.2],[14,37.5],[24.5,41],[22,50],[23.7,52.3],[18.3,52.8],[20.5,53.6],[16,53.8],[25.4,51],[26.5,52.8],[29,54.7],[25.5,56.6],[28,50.4],[26,49],[30,47.9],[32.5,50.6],[34.8,50.9],[33,52.5],[8,59.8],[6.9,60.8],[9.5,61.8],[12,62.2],[13.5,59.5],[15.8,62],[18.6,60.6],[12,64],[14.2,65.3],[-7.5,39.5],[-6.2,39.4],[-4.7,38.5],[-2,38.9],[-1.8,40.5],[-2.6,41.9],[-7.2,42.3],[-8.3,40]];
var pointsRussiaWest=[[30.3,59.9],[31.3,58.5],[33.5,59],[30.7,61.8],[33.1,68.9],[37.6,55.8],[36.2,54.5],[38.8,55.9],[35.9,56.9],[39.7,54.6],[39.9,57.6],[40.5,64.5],[41,56.9],[42.2,55.7],[44,56.3],[45.2,54.2],[46,51.5],[48,46.3],[49.1,55.8],[50.1,53.2],[47.2,56.1],[49.7,58.6],[53.2,56.8],[52,55.7],[53.6,58.1],[56,54.7],[55.1,51.8],[56.2,58],[58,56.8],[60.6,56.8],[59.5,55],[61.4,55.2],[60.6,58],[38.5,52.6],[36.6,51.7],[39.2,51.7],[36.6,50.6],[40.4,52],[41.4,52.7],[42.7,50.8],[44.5,48.7],[39.7,47.2],[41,47.4],[39,45],[38.9,47.2],[37.8,44.7],[39.7,43.6],[41.9,45],[43.4,43.5],[44.7,43],[47.5,43],[52.3,62],[57,64],[53,67.6],[65.6,57.2],[66.6,66.5],[73.4,61.3],[76.6,66],[70,62.6],[67,62.7],[62,59],[64,60.6],[55,60.5],[45,59.3],[49,62.5],[39,60],[43,61]];
var pointsSiberiaCentral=[[68.3,55.4],[73.4,55],[69.6,53],[71.4,51.2],[76.9,52.3],[80.2,50.4],[83,54.9],[83.8,53.3],[85,56.5],[86.1,55.4],[87.1,53.8],[84.9,56.2],[86.3,54.7],[88,54],[81,53.4],[79,53.5],[75,53.7],[90,53.7],[91.4,53.7],[92.9,56],[92.9,55],[68,53.6],[72.8,53.5],[89,56],[83.5,53.8],[86,55],[80,45],[78,43.3],[77,43.2],[76.9,43.3],[69.6,41.3],[71.5,40.8],[66.9,39.7],[59.6,42.5],[69.2,34.5],[72,34],[73,33.6],[74.3,31.5],[67,24.9],[68.4,25.4],[71.5,30.2],[52.5,36],[51.4,35.7],[50,33],[48.5,34.8],[46.3,38.1],[51.7,32.7],[52.5,29.6],[56.3,30.3],[59.6,36.3],[44.5,40.2],[44.8,41.7],[49.9,40.4],[47,39],[41.3,41.6],[32.9,39.9],[29,41],[27.1,38.4],[30.7,36.9],[35.3,37],[37.4,37.1],[39.7,41],[36.3,41.3],[31.5,39.5],[28.9,40.2],[34.5,38],[43,36.3],[44.4,33.3],[47.8,30.5],[44.3,32],[40.2,36.5],[36.3,33.5],[35.9,31.9],[35.2,31.8],[34.8,32.1],[35.5,33.9],[33.4,35.1],[31.2,30],[31.2,27],[39.8,21.4],[39.2,21.5],[46.7,24.7],[50,26.4],[50.6,26.2],[51.5,25.3],[51.8,24],[54.4,24.5],[55.3,25.2],[56.1,24],[58.5,23.6],[48,29.4],[44.2,15.4],[45,12.8],[45.5,9.6],[47,11.7],[38.7,9],[39.3,8.5],[44,21],[47.5,18],[42.7,26],[41.5,16.5],[40.5,18.3],[36.5,28.4],[35,30]];
var pointsAfrica=[[13.2,7.3],[6,3.5],[-20.5,16.3],[38.5,-6.5],[28.1,-26.2],[30.8,-26.5],[28,-33],[31,-29.9],[18.5,-33.9],[-28,17.5],[57.5,-20.2],[55.4,-20.9],[-16.5,14.7],[-17.2,13.9],[0.1,5.6],[3.4,6.5]];
var pointsSouthAsia=[[77.2,28.6],[76,29],[75.5,26.9],[78,27.2],[72.8,19],[73.9,18.5],[73.5,21.5],[72.6,23],[70.8,22.3],[75.8,22.7],[77.4,23.3],[80.9,26.8],[83,25.3],[85.1,25.6],[88.4,22.6],[85.8,20.3],[81.6,21.2],[79.1,21.1],[78.5,17.4],[80.6,16.5],[83.3,17.7],[77.6,13],[76.3,10],[76.9,11],[78.1,9.9],[80.3,13.1],[75,14],[74,15.5],[76.9,8.5],[79.9,7],[80.6,7.3],[80,9.5],[73.5,4.2],[85.3,27.7],[84,28.2],[90.4,23.8],[91.8,22.4],[91.7,26.1],[89.6,27.5],[96.2,16.8],[96,21.9],[95,19],[93,24.8]];
var pointsChina=[[87.6,43.8],[88.5,42.9],[86,41.8],[82.9,41.7],[81.3,43.9],[84.9,45.6],[85.5,44.3],[86,44.4],[89.2,42.9],[93.5,42.8],[94.7,40.1],[98.3,39.8],[100.4,38.9],[79.9,37.1],[75.9,39.5],[76,39],[77.3,38.4],[78.3,41.2],[80.3,41.2],[84,41],[85,43],[91.1,29.7],[94.4,29.7],[97.2,31.1],
[101.8,36.6],[103.8,36.1],[100,36.6],[105.7,34.6],[106.3,38.5],[109.8,40.6],[111.7,40.8],[113.2,40.1],[112.5,37.9],[111,35],[109,34.3],[107.2,34.4],[106,36],[108.7,36.6],[110.5,37.5],[114.5,38],[116.4,39.9],[117.2,39.1],[118.2,39.6],[115.5,38.9],[114.5,36.6],[116.6,36.7],[118,36.8],[119.5,35.4],[120.4,36.1],[121.4,37.5],[122.1,37.2],[113.6,34.7],[115,35.5],[112.4,34.6],[114.3,33.6],[116,34],[117.2,34.3],[118.8,34.5],[120,33.4],[119,33.6],[118.8,32],[120.6,31.3],[121.5,31.2],[120.2,30.3],[121.6,29.9],[119.6,29.1],[120.7,28],[117.2,31.8],[116,32.9],[118.3,29.7],[115.9,28.7],[114.3,30.6],[112.2,30.4],[111.3,30.7],[113.3,31.7],[112.1,32],[110.8,32.6],[108.9,32.7],[107.5,31.2],[106.6,29.6],[104.1,30.7],[103,29.9],[105.4,28.9],[105.6,31.5],[104.7,31.5],[102.3,30],[112.9,28.2],[111.5,27.2],[113,26.9],[110,28.3],[114.9,25.8],[116.4,27.9],[113.3,23.1],[114.1,22.5],[116.7,23.4],[110.4,21.2],[112,22],[110.3,25.3],[108.3,22.8],[109.4,24.3],[106.7,26.6],[104.8,26.6],[107,27.7],[102.7,25],[100.2,25.6],[103.7,27.3],[101.5,24.5],[100,22.9],[102,22.4],[104,23.4],[118.1,24.5],[119.3,26.1],[117.6,26.3],[118.6,25],[121.5,25],[120.7,24.2],[120.3,22.6],[110.3,20],[109.5,18.3],[113.5,22.2],
[100.8,33],[99.2,31],[98,33],[99.5,28],[98.5,25],[98,23],[101.5,33],[103,34],[102,31],[103.5,31.5],[102,28],[104,29],[103.2,33],[106,33],[104,32.5],[109.5,31],[108.4,30.5],[110,30],[108,29],[112,29],[110,27],[108,26],[106.4,24],[105,25],[103,24],[105.5,27.5],[109,23],[107,23],[111,23.5],[113,25],[115,24],[115.8,22.8],[117,25.5],[116,26.5],[114.5,27],[118.3,27],[117.4,28.5],[119.2,28],[118.4,31],[116.5,30.5],[115,31],[113.8,29.5],[109.5,35.8],[111,37],[113.3,36],[115.7,37.3],[117.8,38],[113,38.5],[115,40.5],[117.5,40.9],[119,41.9],[120.8,40.7],[121.6,38.9],[123.4,41.8],[122,43.6],[122.2,40.7],[124.4,43.2],[125.3,43.9],[126.6,45.8],[127.5,47.3],[125,46.6],[123.9,47.3],[129.6,44.6],[130.3,46.8],[126.9,41.8],[129.5,42.9],[118,43],[111.7,43.7],[107,47.9],[106.9,47.9],[114,49.5],[128,50],[127.5,50.3],[131.9,43.1],[135,48.5],[113.5,52],[105,52.3],[104.3,52.3],[142.7,47],[158.7,53],[142.8,46.9],[122,52.8],[124.7,55],[137,50.5],[117.7,57.5]];
var pointsChinaExtra=[[97.5,34.5],[99.2,34.8],[97.4,29.5],[97.8,27.3],[100.8,30.3],[100.5,28.5],[99.8,26.6],[97.8,25.5],[97.5,31.5],[100.3,31.5],[99.5,24],[97.7,22.8],[100.3,21.3],[101.8,26.4],[103.2,25.8],[101.5,29],[103,35.4],[105,36],[104.7,34],[107.8,35.7],[106.5,32.5],[107.3,33],[105.2,30],[106.5,30.8],[108.2,31.6],[107.3,29],[108.8,27.6],[106.6,28.4],[103,32.2],[104.3,28],[106,26.5],[107.6,25],[105.6,23.3],[111.3,33.7],[112.7,33.3],[110,33.8],[109.8,32],[113.4,32.6],[115,32.6],[116.7,31.5],[114.5,29.5],[112.6,30.9],[110.8,29],[111.8,25.8],[113.8,26.2],[115.7,27.2],[117.2,29.6],[118.4,28],[116,25],[114,23.8],[112.4,24],[110.6,22.6],[108.5,24.8],[106.8,22.3],[119.4,30],[120.3,32],[117,33],[116.8,35.5],[118.4,35.6],[115.4,34.5],[113,35.7],[111.5,36.1],[110,36.4],[114.5,39.6],[116.5,38.4],[112,39.5],[110.2,38.8],[118.5,38],[120,37],[124.5,40.5],[125.8,42],[127.5,44.5],[124,45.5],[126.6,43.7],[128.7,46.5],[131,44.5],[120.8,43],[122.8,46],[121.5,41.8],[126,41],[104,22.2],[105,21.3],[103.7,20.7],[105.6,20],[104.5,19],[105.8,17.5],[106.8,18.5],[107.5,16.8],[107,15],[108.3,14],[107.7,12],[106.3,12.5],[105,14],[103.4,15.5],[101.7,16.7],[101.5,19],[100.8,20.5],[99.6,15.6],[100.7,12],[102,11.5],[103.5,11],[100,11],[99.3,13],[98.5,16],[98.8,20.5],[97.5,19]];
var pointsKoreaJapan=[[126.9,37.6],[126.7,37.4],[127.4,36.3],[128.6,35.9],[129,35.2],[126.9,35.2],[127.5,37],[128.9,37.8],[127.1,35.8],[125.8,39],[127.3,39.5],[126.5,33.4],
[130.4,33.6],[130.7,32.8],[131.4,31.9],[130.6,31.6],[129.9,32.8],[131.6,33.2],[132.5,34.4],[133.9,34.7],[131.5,34],[133,35.5],[134.2,35.5],[133,33.8],[134.6,34],[135.2,34.7],[135.5,34.7],[135.8,35],[136.9,35.2],[136.6,36.6],[137.2,36.7],[137.7,34.7],[138.4,35],[138.2,36.2],[138.6,35.7],[139,37.9],[139.7,35.7],[139.4,35.4],[140.1,35.6],[139.9,36.6],[140.4,37.8],[140.9,38.3],[140.1,39.7],[141.2,39.7],[140.7,40.8],[140.7,41.8],[141.3,43.1],[143.2,43],[144.4,43],[142.4,43.8],[141,36],[141.5,37.5],[136.2,36],[135.2,33.8],[132.7,33.8],[139.2,36.4],[137,35.8],[135.9,34.2],[143,41.8],[142.7,39],[141.5,38],[144,44],[145,42.5],[127.7,26.2],[128,27],[129.5,28.4],[131,30.5],[143.5,37.5],[146,36.2],[145.5,35.5],[141.7,33.2],[138.8,34.2],
[129.5,31.5],[128.8,33],[130,35],[131.2,35.5],[132,36.3],[133.7,36.6],[135.3,36.7],[136.5,35],[134.5,36],[137.9,37.6],[138.2,37],[137.8,35.8],[136,33.3],[138.5,33.6],[140,34.5],[141.5,35.2],[142.7,36.7],[143,38.2],[142.7,40.3],[141.8,41.2],[139.8,41],[139.3,39],[140.5,43.8],[141.8,44.7],[142.5,42.7],[144,41.8],[128,35.5],[125.5,37],[126.7,38.8],[128.7,40.3],[127.9,41.7]];
var pointsSoutheastAsia=[[98.3,18.8],[99,18],[100.5,13.8],[101,13],[100.1,15],[102.8,16.4],[100,17],[102,15],[99.8,9.5],[100.5,7.2],[99.8,19.9],[105.9,21],[106.7,20.8],[105,18.7],[108.2,16],[109.2,13.8],[106.7,10.8],[105.8,10],[104.9,11.6],[103.9,13.4],[102.6,18],[101.7,3.1],[100.3,5.4],[103.3,3.8],[103.8,1.4],[110.3,1.6],[116,5.9],[114,4.4],[118,4.8],[120.6,18.2],[121,16],[121,14.6],[120.6,15.1],[123.9,10.3],[125.6,7.1],[122.5,10.7],[122.1,6.9],[119,10],[98.7,3.6],[95.3,5.5],[100.4,-0.9],[101.4,0.5],[104.8,-2.9],[103.6,-1.6],[105.3,-5.4],[106.8,-6.2],[106.8,-6.9],[107.6,-6.9],[110.4,-7],[110.4,-7.8],[112.7,-7.3],[115.2,-8.7],[116.1,-8.6],[109.3,0],[114.6,-3.3],[116.8,-1.3],[119.4,-5.1],[124.8,1.5],[130,-0.9],[118.5,-8.5],[117,-9.5],[121,-10.5],[106,-10.5],[113,-10],[123.6,-10.2],[147.2,-9.4],[143,-5.5],[130.8,-12.5],[133.9,-23.7],[141,-16],[145.8,-16.9],[146.8,-19.3],[149,-21.2],[150.5,-23.4],[153,-27.5],[151.8,-27],[153.4,-28],[151.2,-33.9],[150.9,-34.4],[149.1,-35.3],[147,-36],[145,-37.8],[144.3,-38],[138.6,-34.9],[137,-33],[147.3,-42.9],[115.9,-32],[115.7,-32.5],[116,-31],[118.6,-20.3],[114.5,-28],[139,-34.2],[174.8,-41.3],[175.3,-37.8],[174.8,-36.9],[177,-39],[172.6,-43.5],[170.5,-45.9],[176,-38.1],[178.4,-18.1],[166.5,-22.3]];
var specks=[[-170,-14],[-171,-13.8],[-169,-19],[-176,-18],[-150,-17.5],[-149.5,-17.6],[-145,-15],[-140,-9],[-139,-10],[-135,-23],[-159,-21],[-160,-19],[-172,-2],[-173,1.5],[-157,2],[-90.5,-0.6],[-91,-0.4],[-80,-33.6],[-109,-27],[-27,38],[-24,15],[-23.5,16],[71,-7],[72,-5],[73,2],[73.5,6],[167,-16],[168,-17],[160,-9],[158,-8],[156,-7],[165,-21],[150,7],[158,7],[171,7],[145,14],[145.5,15],[-60,-62],[-58,-62.5],[70,-49],[69,-49.5],[-37,-54.3],[-36,-54.5]];

// panel (b)
var binLabels=['1','2','3','4','5','6','7','8','9','10','11','12','13','14','15','16','17','18'];
var binShares=[8.75,3.95,5.05,3.95,5.05,7,8.5,10.65,12.35,12.2,15,6.55,0.4,0.2,0.4,0.2,0.2,0.2];
var shareTicks={0:'0%',7.5:'7.5%',15:'15%'};
// panel (c)
var weekLabels=['S','M','T','W','T','F','S'];
var weekValues=[100,0,0,0,0,0,0];
var hourLabels=['0','1','2','3','4','5','6','7','8','9','10','11','12','13','14','15','16','17','18','19','20','21','22','23'];
var hourValues=[20,56,60,46,65,50,56,46,81,90,100,60,70,65,46,50,56,65,56,46,70,70,75,90];
// minutes after midnight of each recorded event
var eventMinutes=[0.5,10.7,17.8,44.4,48,57,58,60,66,69,76,80,83.5,87,94,95,97,101,106.5,110,115.5,119,124,128.5,135,139.6,145.6,146.5,149,152.7,158,160.5,167,168,170.4,174,175,177.5,181,182,184,190,195,204,207.7,213,222,223,231,234,238,242.5,247,254,259,264.5,269,269.8,270.5,275,280,286,295,296,298,299,301,304,311,318,325,328,337,341,346,353,360,364,374.6,375,376,382,390.6,394,403,404,407,417,428,433,438,447,448,451,456,460,469,470,472,
482,483,485,491,492,496,499,507,510,515,521,526,534,535,537,538,540,542,548,553,559,564,567,576,577,579,581,587,588,590,591,593,597,603,606,611,614,618,623,624,626,631,636,645,646,648,649,651,655,658,664,673.5,674,678,683,693,700,703,710,716,719,724,727,730,731,735,741,743,749,750,751,757,761,768,776,780,785,786,788,791,796,805,808,816,818,824,834,837,841,842,843,849,854,859,866,874.5,882,885,898,901,906,911,918,926,933,937,943,951,952,954,961,966,972,
979,982,990,998,1006,1009,1019,1026.5,1031,1034,1039,1045,1046,1052,1055,1058,1064,1069,1079,1082,1088,1099,1100,1102,1105,1113,1121,1130,1135,1143,1152,1157,1163,1171,1179,1186,1187,1190,1195,1204,1205,1209,1213,1220,1226,1232,1244,1245,1249,1256,1257,1259,1267,1276,1279,1286,1292,1301,1306,1311,1312,1317,1325,1336,1340,1345,1351,1358,1367,1372,1377,1386,1394,1395,1397,1398,1400,1405,1414,1420,1427,1435,1437];

function toFeature(coords,i){
	return {type:'Feature',properties:{name:'land'+i},geometry:{type:'Polygon',coordinates:[coords]}};
}
var landShapes=[northAmerica,southAmerica,africa,eurasia,australia,antarctica].concat(islands);
echarts.registerMap('land',{type:'FeatureCollection',features:landShapes.map(toFeature)});

var chart=echarts.init(document.getElementById('main'));
var allPoints=[].concat(pointsNorthAmerica,pointsWestExtra,pointsSouthAmerica,pointsEurope,pointsEuropeExtra,pointsRussiaWest,pointsSiberiaCentral,pointsAfrica,pointsSouthAsia,pointsChina,pointsChinaExtra,pointsKoreaJapan,pointsSoutheastAsia);
var grey='#a9a9a9', blue='#41ade6', uiFont='Roboto, sans-serif';

function caption(letter,y){
	return {type:'text',x:1792,y:y,style:{
		text:'{n|(}{b|'+letter+'}{n|)}',align:'center',verticalAlign:'middle',
		rich:{n:{fontFamily:'Liberation Serif',fontSize:76,fill:'#000',fontWeight:'normal'},b:{fontFamily:'Liberation Serif',fontSize:76,fill:'#000',fontWeight:'bold'}}
	}};
}
function note(text,x,y,align,size){
	return {type:'text',x:x,y:y,style:{text:text,fontFamily:uiFont,fontSize:size||38,fill:grey,align:align,verticalAlign:'middle'}};
}

chart.setOption({
	animation:false,
	backgroundColor:'#fff',
	geo:{
		map:'land',
		silent:true,
		roam:false,
		left:20,
		top:142,
		width:3512,
		height:1512,
		aspectScale:1.1227,
		boundingCoords:[[-180,84],[180,-90]],
		itemStyle:{areaColor:'#5f6dab',borderColor:'#56629c',borderWidth:1},
		emphasis:{disabled:true}
	},
	grid:[
		{left:204,top:1923,width:3364,height:307},
		{left:161,top:2526,width:917,height:88},
		{left:1200.4,top:2526,width:2335,height:88},
		{left:174,top:2766,width:3358,height:67}
	],
	xAxis:[
		{gridIndex:0,type:'category',data:binLabels,axisLine:{show:false},axisTick:{show:false},axisLabel:{show:false}},
		{gridIndex:1,type:'category',data:weekLabels,axisLine:{show:false},axisTick:{show:false},
			axisLabel:{interval:0,margin:26,fontFamily:uiFont,fontSize:36,color:grey,padding:[0,50,0,0]}},
		{gridIndex:2,type:'category',data:hourLabels,axisLine:{show:false},axisTick:{show:false},axisLabel:{show:false}},
		{gridIndex:3,type:'value',min:0,max:1438,show:false}
	],
	yAxis:[
		{gridIndex:0,type:'value',min:0,max:15,interval:7.5,axisLine:{show:false},
			axisTick:{show:true,length:16,lineStyle:{color:'#f4f4f4',width:7}},
			splitLine:{lineStyle:{color:'#f4f4f4',width:7}},
			axisLabel:{margin:34,fontFamily:uiFont,fontSize:38,color:grey,formatter:function(v){return shareTicks[v];}}},
		{gridIndex:1,type:'value',min:0,max:100,show:false},
		{gridIndex:2,type:'value',min:0,max:100,show:false},
		{gridIndex:3,type:'value',min:-1,max:1,show:false}
	],
	series:[
		{type:'lines',coordinateSystem:'geo',polyline:true,silent:true,zlevel:0,
			lineStyle:{color:'#3c4674',width:1.6,opacity:0.85},
			data:borders.map(function(b){return {coords:b};})},
		{type:'scatter',coordinateSystem:'geo',silent:true,symbolSize:4,
			itemStyle:{color:'#555'},data:specks},
		{type:'scatter',coordinateSystem:'geo',silent:true,symbolSize:17,
			itemStyle:{color:'#c8124f',borderColor:'#6e1a40',borderWidth:2},data:allPoints},
		{type:'bar',xAxisIndex:0,yAxisIndex:0,barWidth:131,itemStyle:{color:blue},data:binShares},
		{type:'bar',xAxisIndex:1,yAxisIndex:1,barWidth:93,showBackground:true,backgroundStyle:{color:'#f5f6f8'},itemStyle:{color:blue},data:weekValues},
		{type:'bar',xAxisIndex:2,yAxisIndex:2,barWidth:68,showBackground:true,backgroundStyle:{color:'#f5f6f8'},itemStyle:{color:blue},data:hourValues},
		{type:'scatter',xAxisIndex:3,yAxisIndex:3,silent:true,symbol:'rect',symbolSize:[9,67],
			itemStyle:{color:blue,opacity:0.27},
			data:eventMinutes.map(function(m){return [m,0];})}
	],
	graphic:[
		caption('a',1762),caption('b',2387),caption('c',2998),
		note('min: 4.6',234,2273,'left'),
		note('max: 1931.57',3482,2273,'right'),
		note('first: 2020-04-26 00:00:55',178,2878,'left'),
		note('last: 2020-04-26 23:58:06',3529,2878,'right'),
		note('0:00',1218,2657,'left',37),
		note('6:00',1781,2657,'left',37),
		note('12:00',2356,2657,'left',37),
		note('18:00',2940,2657,'left',37),
		note('23:00',3394,2657,'left',37),
		// calendar icon
		{type:'rect',shape:{x:122,y:2541,width:31,height:36,r:5},style:{fill:'#fff',stroke:'#aaa',lineWidth:5}},
		{type:'rect',shape:{x:122,y:2539,width:31,height:12},style:{fill:'#aaa'}},
		{type:'rect',shape:{x:128,y:2531,width:5,height:10},style:{fill:'#aaa'}},
		{type:'rect',shape:{x:142,y:2531,width:5,height:10},style:{fill:'#aaa'}},
		// clock icon
		{type:'circle',shape:{cx:1171,cy:2555,r:15},style:{fill:'#fff',stroke:'#aaa',lineWidth:5}},
		{type:'line',shape:{x1:1171,y1:2546,x2:1171,y2:2556},style:{stroke:'#aaa',lineWidth:3}},
		{type:'line',shape:{x1:1171,y1:2556,x2:1165,y2:2561},style:{stroke:'#aaa',lineWidth:3}}
	]
});
</script>
</body>
</html>
